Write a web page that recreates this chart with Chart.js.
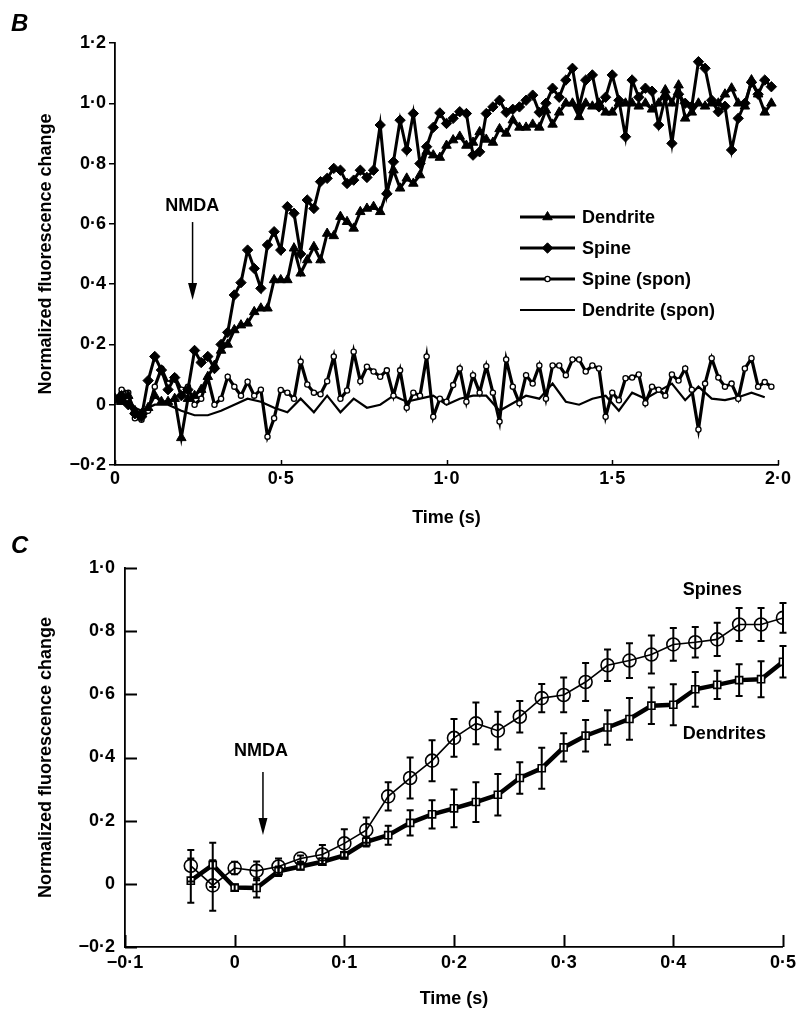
<!DOCTYPE html>
<html lang="en">
<head>
<meta charset="UTF-8">
<title>Spine and dendrite fluorescence after NMDA</title>
<script src="https://cdn.jsdelivr.net/npm/chart.js@4.4.0/dist/chart.umd.min.js"></script>
<style>
  html, body { margin: 0; padding: 0; background: #fff; }
  #page { position: relative; width: 801px; height: 1010px; overflow: hidden; }
  #page canvas { position: absolute; left: 0; top: 0; }
  .letter { position: absolute; font: italic bold 24px 'Liberation Sans', Arial, sans-serif; line-height: 24px; }
</style>
</head>
<body>
<div id="page">
  <canvas id="chartB" width="801" height="1010"></canvas>
  <canvas id="chartC" width="801" height="1010"></canvas>
  <div class="letter" style="left:11px; top:11px;">B</div>
  <div class="letter" style="left:11px; top:533px;">C</div>
</div>
<script>
// ---- panel B: single traces, sampled every 20 ms (spon trace of dendrite every 40 ms)
const stepB = 0.02;
const stepSponDend = 0.04;

const dendriteB = [0.02, 0.01, 0.03, -0.02, -0.03, -0.01, 0.03, 0.01, 0.01, 0.02,
  -0.11, 0.02, 0.03, 0.05, 0.093, 0.13, 0.18, 0.20, 0.248, 0.264,
  0.27, 0.308, 0.32, 0.32, 0.414, 0.414, 0.414, 0.519, 0.436, 0.48,
  0.524, 0.48, 0.568, 0.56, 0.624, 0.607, 0.585, 0.64, 0.651, 0.657,
  0.64, 0.706, 0.778, 0.718, 0.751, 0.734, 0.762, 0.84, 0.828, 0.82,
  0.86, 0.878, 0.89, 0.86, 0.87, 0.905, 0.88, 0.87, 0.915, 0.90,
  0.944, 0.92, 0.92, 0.93, 0.92, 0.977, 0.93, 0.97, 1.0, 1.0,
  0.955, 1.0, 0.99, 1.0, 0.97, 0.97, 1.0, 1.0, 1.0, 0.99,
  1.0, 0.98, 1.0, 1.044, 1.0, 1.06, 0.95, 0.97, 1.0, 0.99,
  1.0, 1.0, 1.03, 1.05, 1.0, 0.99, 1.077, 1.03, 0.97, 1.0];

const spineB = [0.02, 0.03, 0.0, -0.03, -0.04, 0.08, 0.16, 0.115, 0.05, 0.09,
  0.03, 0.05, 0.18, 0.14, 0.16, 0.12, 0.20, 0.24, 0.364, 0.405,
  0.513, 0.452, 0.386, 0.53, 0.574, 0.513, 0.657, 0.635, 0.50, 0.679,
  0.651, 0.74, 0.751, 0.784, 0.778, 0.734, 0.745, 0.778, 0.754, 0.778,
  0.928, 0.70, 0.806, 0.944, 0.845, 0.966, 0.80, 0.856, 0.92, 0.968,
  0.933, 0.95, 0.972, 0.966, 0.828, 0.839, 0.966, 0.988, 1.01, 0.97,
  0.98, 0.988, 1.01, 1.027, 0.97, 1.0, 1.05, 1.02, 1.077, 1.116,
  0.988, 1.077, 1.094, 0.988, 1.02, 1.094, 1.01, 0.889, 1.077, 1.02,
  1.05, 1.04, 0.928, 1.02, 0.867, 1.03, 1.0, 0.99, 1.138, 1.116,
  1.01, 0.972, 0.99, 0.845, 0.95, 1.0, 1.07, 1.03, 1.077, 1.055];

const spineSponB = [0.01, 0.05, 0.04, -0.045, -0.05, -0.02, 0.06, 0.12, 0.07, 0.093,
  0.05, 0.06, 0.0, 0.02, 0.09, 0.0, 0.02, 0.093, 0.06, 0.03,
  0.076, 0.03, 0.05, -0.106, -0.045, 0.049, 0.04, 0.02, 0.143, 0.067,
  0.04, 0.035, 0.078, 0.16, 0.02, 0.047, 0.176, 0.078, 0.126, 0.11,
  0.093, 0.114, 0.03, 0.114, -0.01, 0.04, 0.03, 0.16, -0.04, 0.02,
  0.01, 0.065, 0.12, 0.01, 0.098, 0.04, 0.128, 0.04, -0.056, 0.15,
  0.06, 0.005, 0.098, 0.07, 0.13, 0.02, 0.13, 0.13, 0.098, 0.15,
  0.15, 0.11, 0.13, 0.12, -0.04, 0.04, 0.015, 0.088, 0.09, 0.10,
  0.005, 0.06, 0.05, 0.03, 0.10, 0.08, 0.12, 0.05, -0.082, 0.07,
  0.154, 0.09, 0.06, 0.07, 0.02, 0.12, 0.154, 0.06, 0.075, 0.06];

const dendriteSponB = [0.01, 0.0, -0.02, 0.0, 0.0, -0.02, -0.035, -0.035, -0.02, 0.0,
  0.02, 0.01, -0.01, -0.025, 0.02, -0.025, 0.03, -0.025, 0.02, -0.01,
  0.0, 0.03, 0.01, 0.02, 0.03, 0.0, 0.02, 0.03, 0.03, -0.02,
  0.005, 0.03, 0.02, 0.07, 0.01, 0.0, 0.02, 0.03, -0.02, 0.04,
  0.02, 0.045, 0.07, 0.015, 0.06, 0.02, 0.015, 0.025, 0.04, 0.025];

// ---- panel C: averages with error bars
const timeC = [-0.04, -0.02, 0, 0.02, 0.04, 0.06, 0.08, 0.10, 0.12, 0.14,
  0.16, 0.18, 0.20, 0.22, 0.24, 0.26, 0.28, 0.30, 0.32, 0.34,
  0.36, 0.38, 0.40, 0.42, 0.44, 0.46, 0.48, 0.50];
const spinesC = [0.057, -0.005, 0.05, 0.041, 0.055, 0.08, 0.093, 0.128, 0.17, 0.277,
  0.335, 0.39, 0.462, 0.508, 0.485, 0.529, 0.588, 0.598, 0.639, 0.692,
  0.707, 0.726, 0.758, 0.765, 0.774, 0.821, 0.821, 0.842];
const spinesErr = [0.05, 0.08, 0.02, 0.03, 0.025, 0.01, 0.03, 0.045, 0.04, 0.045,
  0.065, 0.065, 0.06, 0.066, 0.06, 0.05, 0.045, 0.055, 0.06, 0.05,
  0.055, 0.06, 0.052, 0.048, 0.053, 0.052, 0.052, 0.047];
const dendritesC = [0.01, 0.06, -0.012, -0.013, 0.04, 0.055, 0.07, 0.09, 0.133, 0.154,
  0.193, 0.22, 0.239, 0.259, 0.282, 0.335, 0.366, 0.432, 0.469, 0.495,
  0.522, 0.564, 0.567, 0.616, 0.63, 0.645, 0.648, 0.703];
const dendritesErr = [0.07, 0.07, 0.01, 0.03, 0.015, 0.01, 0.01, 0.01, 0.015, 0.03,
  0.04, 0.045, 0.06, 0.063, 0.066, 0.05, 0.065, 0.045, 0.05, 0.055,
  0.066, 0.058, 0.065, 0.055, 0.045, 0.05, 0.057, 0.05];

const FONT = "'Liberation Sans', Arial, sans-serif";
const font18 = { family: FONT, size: 18, weight: 'bold' };

function toXY(values, step) {
  return values.map((v, i) => ({ x: +(i * step).toFixed(2), y: v }));
}

// 0.5 -> "0·5", -0.2 -> "−0·2"
function fmtTick(value) {
  const r = Math.round(value * 10) / 10;
  if (r === 0) return '0';
  return (r < 0 ? '\u2212' : '') + Math.abs(r).toFixed(1).replace('.', '\u00b7');
}

// tick marks drawn inside the plot box
const innerTicks = {
  id: 'innerTicks',
  afterDraw(chart, args, opts) {
    const ctx = chart.ctx, xs = chart.scales.x, ys = chart.scales.y;
    ctx.save();
    ctx.strokeStyle = '#000';
    ctx.lineWidth = opts.width || 1.5;
    ctx.beginPath();
    if (opts.x) {
      xs.ticks.forEach(t => {
        const px = Math.round(xs.getPixelForValue(t.value)) + 0.5;
        ctx.moveTo(px, ys.bottom);
        ctx.lineTo(px, ys.bottom - opts.x);
      });
    }
    if (opts.y) {
      ys.ticks.forEach(t => {
        const py = Math.round(ys.getPixelForValue(t.value)) + 0.5;
        ctx.moveTo(xs.left, py);
        ctx.lineTo(xs.left + opts.y, py);
      });
    }
    ctx.stroke();
    ctx.restore();
  }
};

// vertical error bars with caps, from dataset.errorBars
const errorBars = {
  id: 'errorBars',
  afterDatasetsDraw(chart) {
    const ctx = chart.ctx, xs = chart.scales.x, ys = chart.scales.y;
    ctx.save();
    ctx.strokeStyle = '#000';
    ctx.lineWidth = 2;
    chart.data.datasets.forEach(ds => {
      if (!ds.errorBars) return;
      ds.data.forEach((p, i) => {
        const e = ds.errorBars[i];
        const px = xs.getPixelForValue(p.x);
        const top = ys.getPixelForValue(p.y + e);
        const bot = ys.getPixelForValue(p.y - e);
        ctx.beginPath();
        ctx.moveTo(px, top); ctx.lineTo(px, bot);
        ctx.moveTo(px - 3.5, top); ctx.lineTo(px + 3.5, top);
        ctx.moveTo(px - 3.5, bot); ctx.lineTo(px + 3.5, bot);
        ctx.stroke();
      });
    });
    ctx.restore();
  }
};

// NMDA arrow and free text labels, placed in data units
const notes = {
  id: 'notes',
  afterDraw(chart, args, opts) {
    const ctx = chart.ctx, xs = chart.scales.x, ys = chart.scales.y;
    ctx.save();
    ctx.fillStyle = '#000';
    ctx.strokeStyle = '#000';
    ctx.font = 'bold 18px ' + FONT;
    ctx.textBaseline = 'middle';
    (opts.items || []).forEach(it => {
      if (it.text) {
        ctx.textAlign = it.align || 'center';
        ctx.fillText(it.text, xs.getPixelForValue(it.x), ys.getPixelForValue(it.y));
      } else if (it.arrow) {
        const px = xs.getPixelForValue(it.x);
        const y0 = ys.getPixelForValue(it.from), y1 = ys.getPixelForValue(it.to);
        ctx.lineWidth = 1.5;
        ctx.beginPath();
        ctx.moveTo(px, y0); ctx.lineTo(px, y1 - 10);
        ctx.stroke();
        ctx.beginPath();
        ctx.moveTo(px, y1); ctx.lineTo(px - 4.5, y1 - 17); ctx.lineTo(px + 4.5, y1 - 17);
        ctx.closePath();
        ctx.fill();
      }
    });
    ctx.restore();
  }
};

// legend drawn inside panel B, no box
const sampleLegend = {
  id: 'sampleLegend',
  afterDraw(chart, args, opts) {
    if (!opts.left) return;
    const ctx = chart.ctx;
    ctx.save();
    chart.data.datasets.forEach((ds, i) => {
      const y = opts.top + i * opts.rowGap;
      ctx.strokeStyle = '#000';
      ctx.lineWidth = ds.borderWidth;
      ctx.beginPath();
      ctx.moveTo(opts.left, y); ctx.lineTo(opts.left + opts.lineLen, y);
      ctx.stroke();
      if (ds.pointRadius > 0) {
        ctx.fillStyle = ds.pointBackgroundColor;
        ctx.lineWidth = ds.pointBorderWidth;
        Chart.helpers.drawPoint(ctx, {
          pointStyle: ds.pointStyle, radius: ds.pointRadius, rotation: 0,
          borderWidth: ds.pointBorderWidth
        }, opts.left + opts.lineLen / 2, y);
      }
      ctx.fillStyle = '#000';
      ctx.font = 'bold 18px ' + FONT;
      ctx.textAlign = 'left';
      ctx.textBaseline = 'middle';
      ctx.fillText(ds.label, opts.left + opts.lineLen + 7, y + 1);
    });
    ctx.restore();
  }
};

Chart.register(innerTicks, errorBars, notes, sampleLegend);

function axis(min, max, step, extra) {
  return Object.assign({
    type: 'linear', min: min, max: max,
    border: { display: true, color: '#000', width: 1.8 },
    ticks: { stepSize: step, color: '#000', font: font18, callback: fmtTick, autoSkip: false, maxRotation: 0 },
    grid: { display: false, drawTicks: false }
  }, extra);
}

function title(text, pad) {
  return { display: true, text: text, color: '#000', font: font18, padding: pad };
}

// ---------- panel B
new Chart(document.getElementById('chartB'), {
  type: 'line',
  data: {
    datasets: [
      { label: 'Dendrite', data: toXY(dendriteB, stepB), borderColor: '#000', borderWidth: 3,
        pointStyle: 'triangle', pointRadius: 5.5, pointBackgroundColor: '#000', pointBorderColor: '#000', pointBorderWidth: 1 },
      { label: 'Spine', data: toXY(spineB, stepB), borderColor: '#000', borderWidth: 3,
        pointStyle: 'rectRot', pointRadius: 5.2, pointBackgroundColor: '#000', pointBorderColor: '#000', pointBorderWidth: 1 },
      { label: 'Spine (spon)', data: toXY(spineSponB, stepB), borderColor: '#000', borderWidth: 3.2,
        pointStyle: 'circle', pointRadius: 2.6, pointBackgroundColor: '#fff', pointBorderColor: '#000', pointBorderWidth: 1.3 },
      { label: 'Dendrite (spon)', data: toXY(dendriteSponB, stepSponDend), borderColor: '#000', borderWidth: 2.2,
        pointRadius: 0 }
    ]
  },
  options: {
    responsive: false,
    animation: false,
    events: [],
    layout: { autoPadding: false, padding: { top: 43, right: 23, bottom: 475, left: 35 } },
    scales: {
      x: axis(0, 2, 0.5, {
        title: title('Time (s)', { top: 0, bottom: 6 }),
        afterFit: s => { s.height = 70; }
      }),
      y: axis(-0.2, 1.2, 0.2, {
        grid: { display: true, drawOnChartArea: false, drawTicks: true, tickLength: 6, color: '#000', lineWidth: 1.5 },
        title: title('Normalized fluorescence change', { top: 0, bottom: 0 }),
        afterFit: s => { s.width = 80; }
      })
    },
    plugins: {
      legend: { display: false },
      tooltip: { enabled: false },
      innerTicks: { x: 5 },
      notes: { items: [
        { text: 'NMDA', x: 0.233, y: 0.659 },
        { arrow: true, x: 0.234, from: 0.606, to: 0.347 }
      ] },
      sampleLegend: { left: 520, top: 217, rowGap: 31, lineLen: 55 }
    }
  }
});

// ---------- panel C
new Chart(document.getElementById('chartC'), {
  type: 'line',
  data: {
    datasets: [
      { label: 'Spines', data: timeC.map((t, i) => ({ x: t, y: spinesC[i] })), errorBars: spinesErr,
        borderColor: '#000', borderWidth: 1.6, pointStyle: 'circle', pointRadius: 6.5,
        pointBackgroundColor: 'rgba(0,0,0,0)', pointBorderColor: '#000', pointBorderWidth: 1.6 },
      { label: 'Dendrites', data: timeC.map((t, i) => ({ x: t, y: dendritesC[i] })), errorBars: dendritesErr,
        borderColor: '#000', borderWidth: 4.5, pointStyle: 'rect', pointRadius: 5,
        pointBackgroundColor: '#fff', pointBorderColor: '#000', pointBorderWidth: 1.6 }
    ]
  },
  options: {
    responsive: false,
    animation: false,
    events: [],
    layout: { autoPadding: false, padding: { top: 568, right: 12, bottom: 0, left: 35 } },
    scales: {
      x: axis(-0.1, 0.5, 0.1, {
        ticks: { stepSize: 0.1, color: '#000', font: font18, callback: fmtTick, autoSkip: false, maxRotation: 0, padding: 5 },
        title: title('Time (s)', { top: 0, bottom: 0 }),
        afterFit: s => { s.height = 63; }
      }),
      y: axis(-0.2, 1.0, 0.2, {
        ticks: { stepSize: 0.2, color: '#000', font: font18, callback: fmtTick, autoSkip: false, padding: 10 },
        title: title('Normalized fluorescence change', { top: 0, bottom: 0 }),
        afterFit: s => { s.width = 90; }
      })
    },
    plugins: {
      legend: { display: false },
      tooltip: { enabled: false },
      innerTicks: { x: 12, y: 12, width: 2 },
      notes: { items: [
        { text: 'NMDA', x: 0.024, y: 0.42 },
        { arrow: true, x: 0.0258, from: 0.354, to: 0.155 },
        { text: 'Spines', x: 0.4087, y: 0.93, align: 'left' },
        { text: 'Dendrites', x: 0.4087, y: 0.475, align: 'left' }
      ] }
    }
  }
});
</script>
</body>
</html>
